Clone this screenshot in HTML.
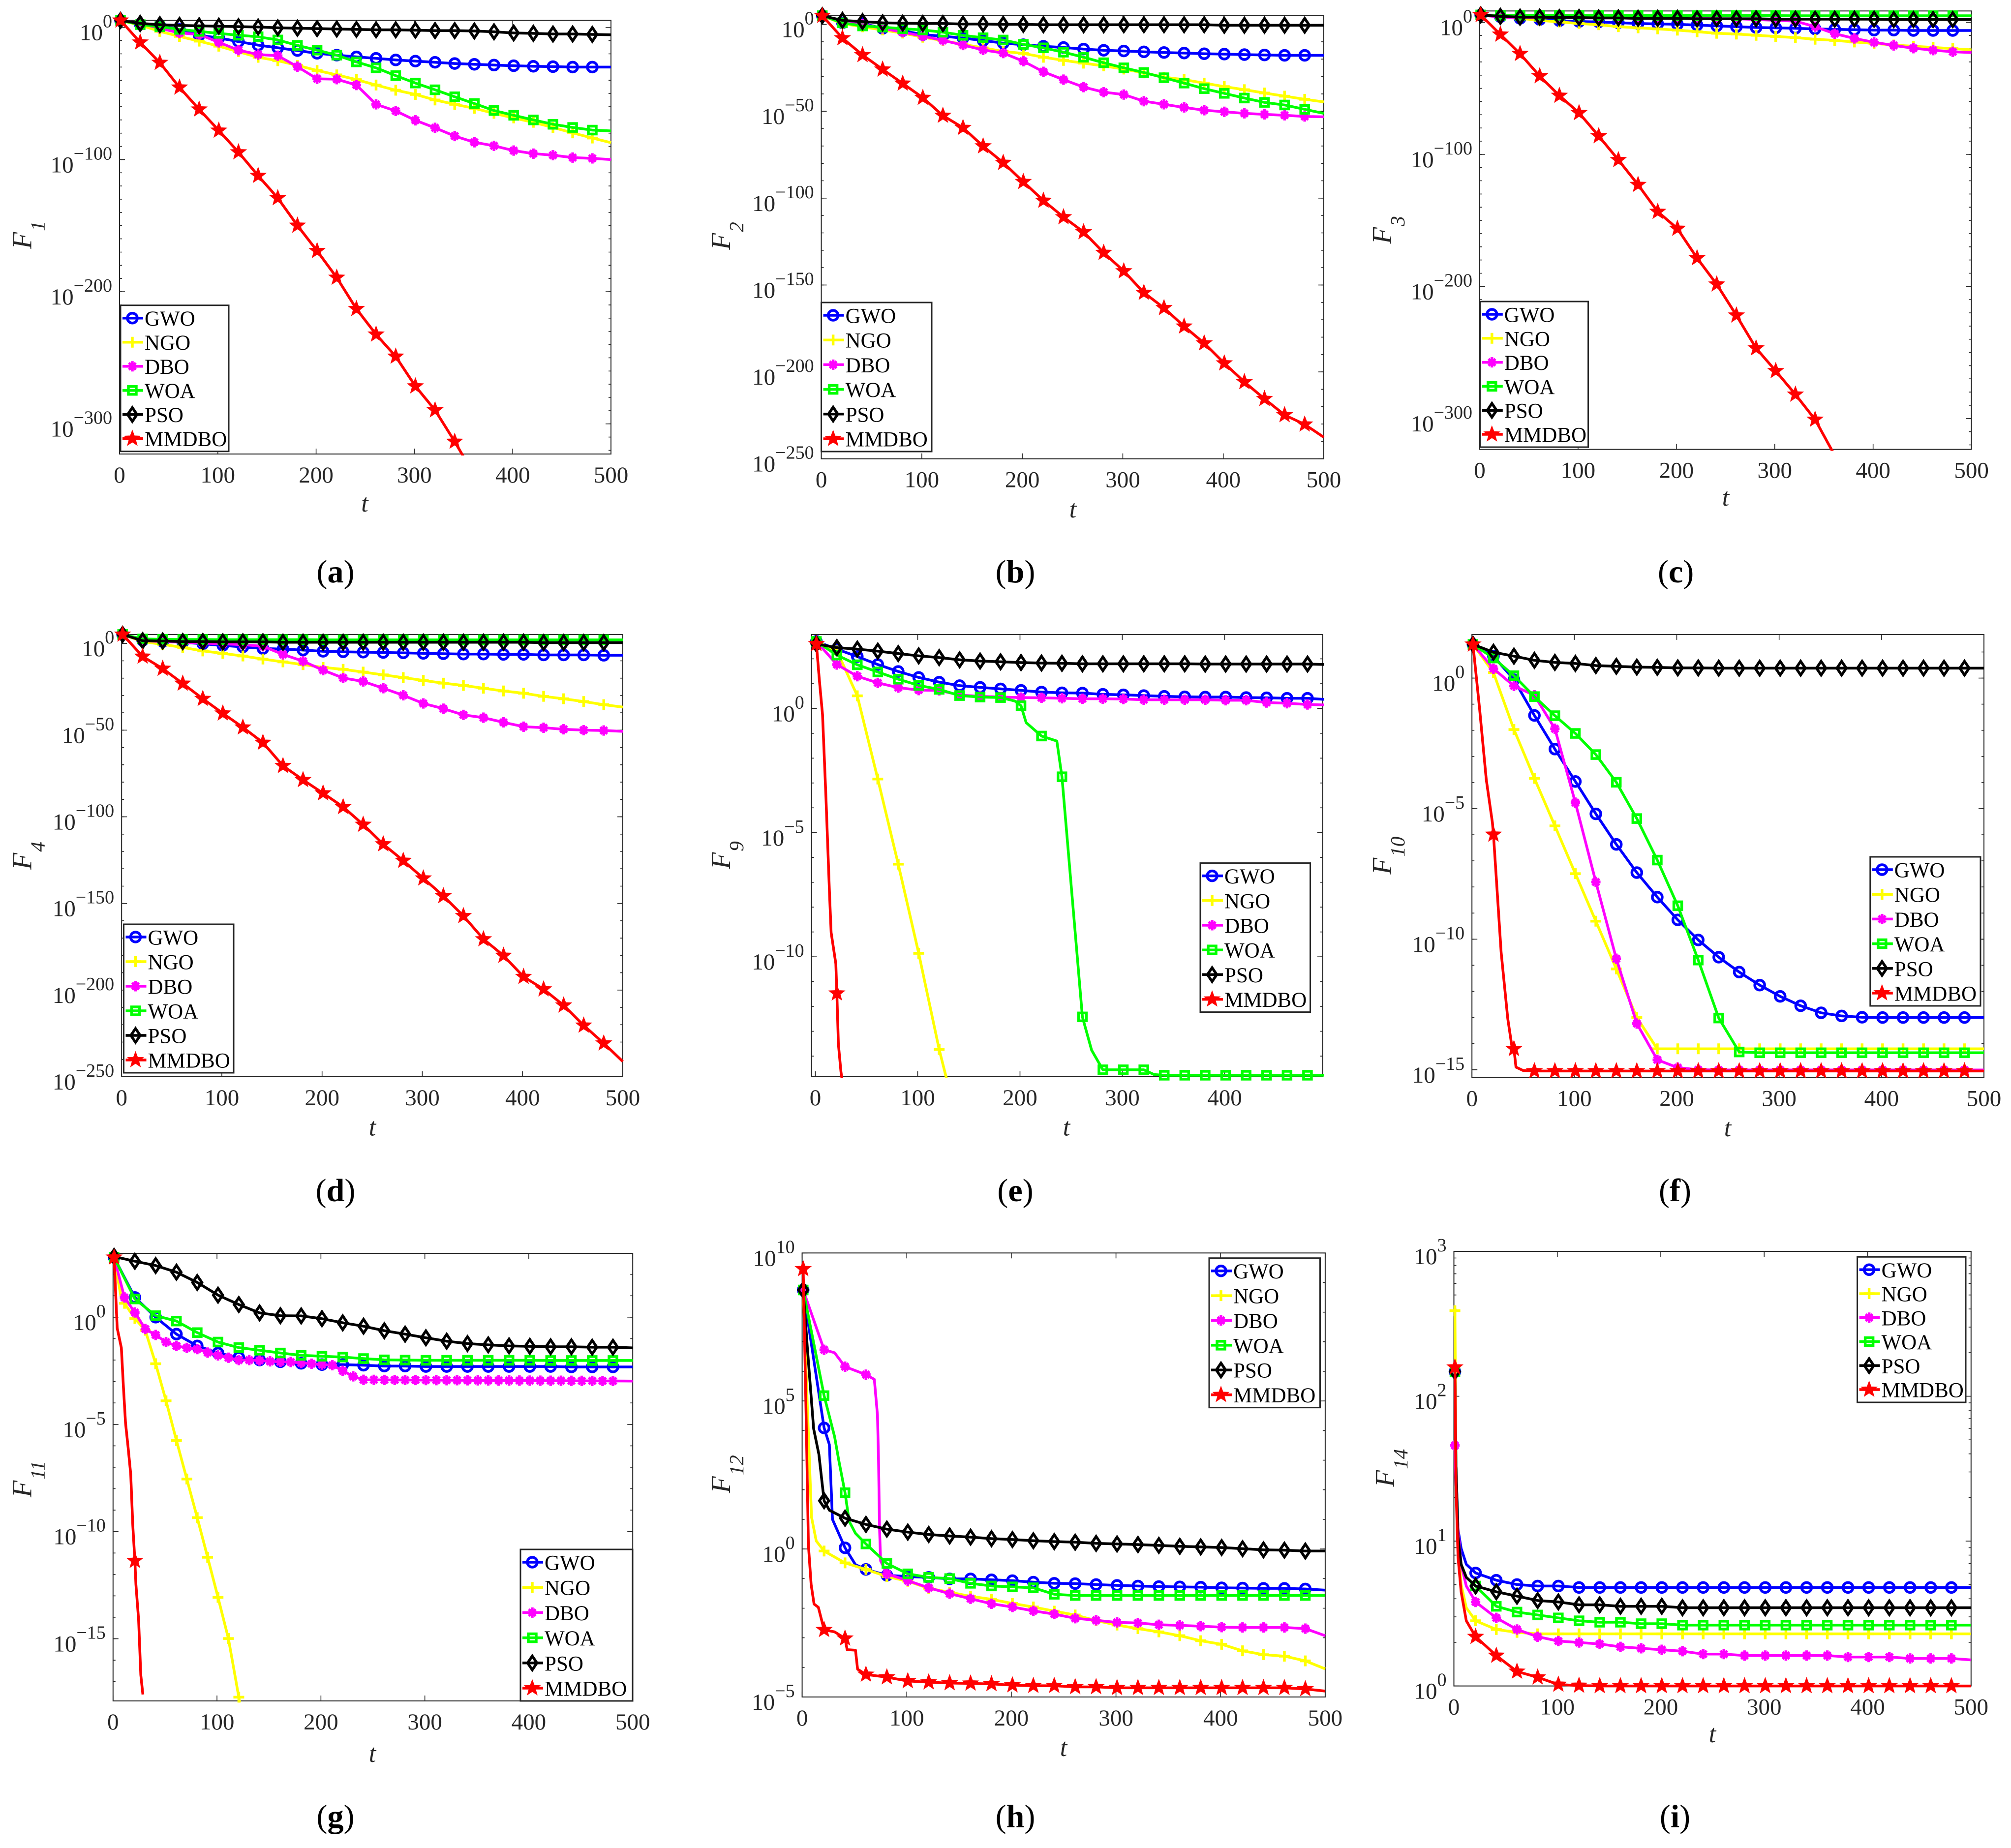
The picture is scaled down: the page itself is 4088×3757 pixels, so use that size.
<!DOCTYPE html>
<html lang="en">
<head>
<meta charset="utf-8">
<title>Convergence curves F1 to F14</title>
<style>
html,body{margin:0;padding:0;background:#fff;}
svg{display:block;font-family:"Liberation Serif",serif;}
</style>
</head>
<body>
<svg id="figure" xmlns="http://www.w3.org/2000/svg" width="4088" height="3757" viewBox="0 0 4088 3757"></svg>
<script>
// Algorithm names (legend order)
const categories = ['GWO','NGO','DBO','WOA','PSO','MMDBO'];
// Iterations shared by most series
const ITER = [1,21,41,61,81,101,121,141,161,181,201,221,241,261,281,301,321,341,361,381,401,421,441,461,481,500];
const T81 = [81,101,121,141,161,181,201,221,241,261,281,301,321,341,361,381,401,421,441,461,481,500];
const T61 = [61,81,101,121,141,161,181,201,221,241,261,281,301,321,341,361,381,401,421,441,461,481,500];
const XT500 = [0,100,200,300,400,500];
const XT400 = [0,100,200,300,400];

// All series values are log10(fitness)
// F1
const F1_yticks = [0,-100,-200,-300];
const F1_GWO = [5.3,2.4,1.2,-1.5,-5.9,-8,-10.7,-13.4,-15.4,-17.5,-19.6,-21,-22.3,-23.4,-24.6,-25.5,-26.4,-27.3,-27.9,-28.5,-29,-29.4,-29.7,-30,-30,-30];
const F1_NGO = [5.3,1.8,-3,-6.8,-10.4,-14.2,-18.4,-22.6,-25.2,-28.7,-32.6,-35.9,-39.5,-43.6,-47.5,-50.7,-54.9,-58.2,-61.2,-65,-68.5,-71.8,-75.7,-79.8,-83.7,-87.2];
const F1_DBO = [5.3,3,-0.6,-4.2,-5.3,-11.3,-17.2,-20.5,-21.4,-29.7,-38.9,-39.2,-43.6,-58.2,-63.2,-70.3,-76,-82.2,-86.9,-89.6,-93.2,-95.5,-96.7,-98.5,-99.1,-100];
const F1_WOA = [5.3,2.1,0.6,-1.5,-3,-4.5,-5.9,-7.1,-9.5,-13.6,-17.2,-21,-26.1,-30.6,-36.5,-42.1,-47.2,-52.5,-57.6,-62.9,-66.5,-70,-73.3,-75.7,-77.7,-78.3];
const F1_PSO = [5.3,3,2.1,1.5,1.2,0.9,0.6,0.3,-0.3,-0.6,-0.9,-1.2,-1.5,-1.8,-1.8,-2.1,-2.4,-2.4,-2.7,-3.3,-4.2,-4.5,-5,-5,-5.3,-5.6];
const F1_MMDBO = [5.3,-11.3,-26.7,-45.4,-62,-78,-94.4,-112.2,-129.1,-149.9,-169.1,-189.3,-213,-232.3,-249,-271.5,-289.6,-313.4,-339];
// F2
const F2_yticks = [0,-50,-100,-150,-200,-250];
const F2_GWO = [5,0.9,0.5,-2.3,-3.6,-5.9,-6.8,-7.9,-9.3,-10.8,-11.7,-12.6,-13.3,-14.2,-14.9,-15.3,-15.8,-16.2,-16.5,-16.9,-17.1,-17.4,-17.6,-17.8,-17.8,-17.8];
const F2_NGO = [5,0.5,-1.4,-3.2,-5,-7.4,-9.3,-11.5,-13.5,-15.6,-16.7,-18.9,-20.7,-22.3,-23.9,-25.7,-27.9,-30.4,-31.8,-33.8,-35.8,-37.6,-39.5,-41.3,-43.1,-44.6];
const F2_DBO = [5,0.9,0,-2.3,-4.5,-6.8,-9.2,-11.9,-14.7,-16.5,-21.2,-27.3,-31.8,-36.1,-39,-40.4,-44.2,-46,-47.8,-49.4,-50.3,-51.2,-51.8,-52.3,-53,-53.2];
const F2_WOA = [5,0.9,-0.9,-1.6,-2.5,-3.2,-4.5,-6.3,-7.7,-9,-11.5,-13.5,-16,-18.9,-22.1,-25,-27.7,-30.7,-33.8,-37,-39.7,-42.4,-44.9,-46.4,-48.9,-51.2];
const F2_PSO = [5,2.3,1.6,0.9,0.7,0.5,0.5,0.2,0.2,0,0,-0.2,-0.2,-0.2,-0.2,-0.2,-0.2,-0.2,-0.2,-0.2,-0.5,-0.5,-0.5,-0.5,-0.5,-0.5];
const F2_MMDBO = [5,-7.9,-17.6,-25.9,-34,-42.2,-52.5,-59.5,-70.1,-79.6,-90.6,-101.4,-110.9,-119.5,-131.4,-142,-154.4,-163.2,-173.8,-183.5,-195,-205.8,-215.5,-224.8,-230.2,-237.6];
// F3
const F3_yticks = [0,-100,-200,-300];
const F3_GWO = [5.6,4.2,3,2.1,1.2,0.6,0.3,-0.3,-0.9,-1.2,-1.5,-2.1,-2.7,-3.3,-3.9,-4.2,-4.5,-5,-5.3,-5.6,-5.9,-5.9,-6.2,-6.2,-6.2,-6.2];
const F3_NGO = [5.6,3.9,3,1.5,0.3,-0.9,-1.8,-3.3,-4.2,-5,-5.9,-7.1,-8.3,-8.9,-9.8,-10.7,-11.6,-12.8,-13.7,-14.9,-16,-17.2,-18.1,-19,-19.9,-20.8];
const F3_DBO = [5.6,3.9,3.6,3.6,3.6,3.3,3.3,3.3,3,3,3,3,2.7,2.7,2.1,1.5,0.9,-3.3,-8.6,-12.2,-15.1,-17.5,-19.6,-21.1,-22.3,-22.9];
const F3_WOA = [5.6,5.3,5.3,5.3,5.3,5.3,5.2,5.2,5.2,5.2,5.1,5.1,5.1,5.1,5.1,5.1,5,5,5,5,5,5,5,5,5,5];
const F3_PSO = [5.6,4.5,3.9,3.9,3.6,3.6,3.3,3.3,3,3,3,2.7,2.7,2.7,2.7,2.4,2.4,2.4,2.4,2.4,2.4,2.1,2.1,2.1,2.1,2.1];
const F3_MMDBO = [5.6,-9.2,-23.8,-40.7,-55.5,-68.6,-86.1,-104.2,-123,-143.4,-156.2,-178.5,-198.4,-221.9,-246.8,-264,-281.8,-300.8,-328];
// F4
const F4_yticks = [0,-50,-100,-150,-200,-250];
const F4_GWO = [5.2,1.8,1.1,0.7,-0.2,-1.1,-2,-2.9,-3.2,-3.8,-4.5,-4.8,-5,-5.2,-5.4,-5.7,-5.9,-6.1,-6.1,-6.3,-6.3,-6.6,-6.6,-6.6,-6.8,-6.8];
const F4_NGO = [5.2,1.1,-0.5,-2.3,-4.3,-5.7,-7.2,-9,-10.6,-12.2,-13.8,-14.9,-16.5,-18.1,-19.7,-21.3,-22.9,-24.2,-25.8,-27.4,-28.7,-30.5,-31.9,-33.5,-35.3,-36.7];
const F4_DBO = [5.2,1.6,1.1,0.7,0.2,-0.2,-0.7,-1.6,-6.3,-10.2,-15.4,-19.9,-21.9,-25.8,-29.9,-34.6,-37.6,-41.2,-42.8,-45.5,-48,-48.6,-49.5,-50,-50.2,-50.7];
const F4_WOA = [5.2,2.6,2.4,2.3,2.3,2.2,2.2,2.2,2.2,2.2,2.1,2.1,2.1,2.1,2.1,2.1,2.1,2.1,2.1,2.1,2.1,2.1,2.1,2.1,2.1,2.1];
const F4_PSO = [5.2,1.6,1.4,1.1,1.1,0.9,0.9,0.9,0.7,0.7,0.7,0.7,0.7,0.7,0.7,0.7,0.7,0.7,0.7,0.7,0.7,0.5,0.5,0.5,0.5,0.5];
const F4_MMDBO = [5.2,-7.5,-14.5,-23.1,-31.9,-40.3,-48.4,-57.2,-70.6,-78.7,-86.4,-94.3,-104.5,-115.8,-125.3,-135.5,-145.7,-157.2,-170.6,-180.1,-192.3,-199.5,-208.8,-220.4,-230.7,-241.2];
// F9
const F9_yticks = [0,-5,-10];
const F9_GWO = [2.7,2.39,2.09,1.77,1.49,1.25,1.06,0.92,0.85,0.79,0.73,0.66,0.63,0.62,0.57,0.55,0.52,0.49,0.47,0.46,0.46,0.44,0.43,0.41,0.41,0.36];
const F9_NGO = [2.7,2.32,0.51,-2.84,-6.27,-9.86,-13.73,-17];
const F9_DBO = [2.7,1.77,1.3,1.03,0.84,0.74,0.73,0.54,0.49,0.46,0.44,0.43,0.41,0.39,0.39,0.38,0.35,0.35,0.35,0.35,0.33,0.33,0.24,0.21,0.16,0.14];
const F9_WOA_t = [1,21,41,61,81,101,121,141,161,181,195,201,206,221,236,241,250,261,270,281,321,331,341,500];
const F9_WOA = [2.7,2.15,1.76,1.47,1.18,0.93,0.77,0.52,0.46,0.44,0.3,0.11,-0.57,-1.11,-1.31,-2.75,-7.12,-12.42,-13.76,-14.55,-14.55,-14.74,-14.77,-14.77];
const F9_PSO = [2.6,2.45,2.39,2.31,2.21,2.12,2.05,1.96,1.91,1.88,1.85,1.83,1.82,1.8,1.8,1.8,1.8,1.8,1.8,1.79,1.79,1.79,1.79,1.79,1.79,1.77];
const F9_MMDBO_t = [1,4,7,10.4,13.8,15.4,20,21,22.5,25,27];
const F9_MMDBO = [2.6,1.1,-0.25,-3.65,-7.44,-9.02,-10.28,-11.47,-13.52,-14.63,-15.2];
// F10
const F10_yticks = [0,-5,-10,-15];
const F10_GWO = [1.29,0.84,-0.06,-1.43,-2.72,-3.96,-5.2,-6.37,-7.45,-8.39,-9.26,-10.03,-10.69,-11.26,-11.76,-12.19,-12.55,-12.82,-12.94,-12.99,-13,-13,-13,-13,-13,-13];
const F10_NGO = [1.29,0.21,-1.97,-3.84,-5.66,-7.49,-9.31,-11.14,-13,-14.2,-14.2,-14.2,-14.2,-14.2,-14.2,-14.2,-14.2,-14.2,-14.2,-14.2,-14.2,-14.2,-14.2,-14.2,-14.2,-14.2];
const F10_DBO = [1.29,0.36,-0.3,-0.66,-1.94,-4.77,-7.81,-10.75,-13.23,-14.62,-14.92,-15,-15.01,-15.01,-15.01,-15.01,-15.01,-15.01,-15.01,-15.01,-15.01,-15.01,-15.01,-15.01,-15.01,-15.01];
const F10_WOA = [1.29,0.77,0.09,-0.71,-1.44,-2.12,-2.93,-3.99,-5.38,-6.97,-8.72,-10.8,-13.02,-14.32,-14.35,-14.35,-14.35,-14.35,-14.35,-14.35,-14.35,-14.35,-14.35,-14.35,-14.35,-14.35];
const F10_PSO = [1.29,0.99,0.84,0.68,0.6,0.56,0.48,0.45,0.42,0.41,0.39,0.39,0.38,0.38,0.38,0.38,0.38,0.38,0.38,0.38,0.38,0.38,0.38,0.38,0.38,0.38];
const F10_MMDBO_t = [1,7.5,14,20,21,23.5,28.5,35,39,41,43,50,...T61];
const F10_MMDBO = [1.29,-1.19,-3.89,-5.54,-5.99,-7.49,-10.5,-13.05,-14.1,-14.2,-14.9,-15.03,-15.05,-15.05,-15.05,-15.05,-15.05,-15.05,-15.05,-15.05,-15.05,-15.05,-15.05,-15.05,-15.05,-15.05,-15.05,-15.05,-15.05,-15.05,-15.05,-15.05,-15.05,-15.05,-15.05];
// F11
const F11_yticks = [0,-5,-10,-15];
const F11_GWO = [2.79,0.92,0,-0.79,-1.34,-1.67,-1.88,-2,-2.08,-2.15,-2.21,-2.21,-2.24,-2.28,-2.28,-2.3,-2.3,-2.3,-2.3,-2.3,-2.3,-2.3,-2.32,-2.32,-2.32,-2.32];
const F11_NGO_t = [1,8,21,31,41,51,61,71,81,91,101,111,118,122];
const F11_NGO = [2.79,0.86,-0.06,-0.61,-2.17,-3.9,-5.75,-7.55,-9.35,-11.2,-13.07,-14.99,-16.9,-18];
const F11_DBO_t = [1,11,21,31,41,51,61,71,81,91,101,111,121,131,141,151,161,171,181,191,201,211,221,231,241,500];
const F11_DBO = [2.79,0.92,0.22,-0.55,-0.83,-1.16,-1.34,-1.43,-1.49,-1.65,-1.78,-1.89,-2,-2,-2.02,-2.06,-2.08,-2.09,-2.13,-2.17,-2.21,-2.24,-2.5,-2.76,-2.92,-2.98];
const F11_WOA = [2.79,0.85,0.07,-0.18,-0.72,-1.16,-1.42,-1.54,-1.67,-1.78,-1.82,-1.86,-1.93,-1.99,-2,-2.01,-2.01,-2.01,-2.01,-2.01,-2.01,-2.02,-2.02,-2.02,-2.02,-2.02];
const F11_PSO = [2.83,2.61,2.41,2.1,1.62,1.03,0.59,0.2,0.07,0.06,-0.07,-0.26,-0.42,-0.63,-0.79,-0.96,-1.12,-1.23,-1.29,-1.34,-1.36,-1.38,-1.38,-1.4,-1.4,-1.43];
const F11_MMDBO_t = [1,4,8,10,12,14.4,17,19,21,22,24.6,26.7,28.7];
const F11_MMDBO = [2.79,-0.51,-1.43,-3.27,-4.93,-6.03,-7.32,-9.71,-11.36,-12.46,-14.12,-16.69,-17.6];
// F12
const F12_yticks = [10,5,0,-5];
const F12_GWO_t = [1,21,26,29,41,51,61,...T81];
const F12_GWO = [8.75,4.09,3.53,1,0.04,-0.53,-0.69,-0.89,-0.93,-0.96,-1.01,-1.01,-1.04,-1.07,-1.12,-1.16,-1.17,-1.2,-1.23,-1.25,-1.27,-1.28,-1.29,-1.31,-1.32,-1.33,-1.33,-1.35,-1.39];
const F12_NGO_t = [1,5,9,13.5,21,41,61,...T81];
const F12_NGO = [8.75,4.8,1.07,0.27,-0.07,-0.47,-0.69,-0.93,-1.09,-1.33,-1.46,-1.6,-1.7,-1.84,-1.96,-2.1,-2.23,-2.42,-2.57,-2.69,-2.8,-2.93,-3.1,-3.22,-3.44,-3.57,-3.62,-3.78,-4.05];
const F12_DBO_t = [1,21,31,41,61,69,72,73,74,75,...T81];
const F12_DBO = [8.75,6.73,6.63,6.16,5.89,5.73,4.53,3.06,0.67,-0.4,-0.84,-1.07,-1.31,-1.51,-1.68,-1.85,-1.96,-2.09,-2.2,-2.34,-2.41,-2.48,-2.5,-2.56,-2.58,-2.61,-2.64,-2.65,-2.65,-2.65,-2.69,-2.93];
const F12_WOA_t = [1,21,31,35,41,45,51,61,...T81];
const F12_WOA = [8.75,5.18,3.8,3,1.9,0.93,0.53,0.17,-0.49,-0.84,-0.96,-1,-1.16,-1.25,-1.28,-1.31,-1.53,-1.57,-1.57,-1.57,-1.57,-1.57,-1.57,-1.57,-1.57,-1.57,-1.57,-1.57,-1.57,-1.57];
const F12_PSO_t = [1,5,11,16,21,26,41,61,...T81];
const F12_PSO = [8.75,6.79,4.06,3.2,1.63,1.31,1.04,0.83,0.67,0.57,0.49,0.44,0.4,0.35,0.32,0.28,0.25,0.23,0.19,0.17,0.15,0.12,0.09,0.07,0.05,0.01,-0.03,-0.04,-0.07,-0.07];
const F12_MMDBO_t = [1,4,6,8.6,11.4,15.5,21,31,41,43,51,53,61,...T81];
const F12_MMDBO = [9.46,4.13,0.13,-1.2,-1.86,-1.97,-2.73,-2.8,-3.02,-3.4,-3.42,-4.06,-4.24,-4.33,-4.46,-4.5,-4.53,-4.54,-4.56,-4.6,-4.62,-4.62,-4.66,-4.66,-4.69,-4.69,-4.69,-4.69,-4.69,-4.69,-4.69,-4.69,-4.69,-4.73,-4.8];
// F14
const F14_yticks = [3,2,1,0];
const F14_t = [1,2,4,7,12,21,41,61,...T81];
const F14_GWO = [2.17,1.52,1.08,0.95,0.84,0.78,0.73,0.7,0.69,0.69,0.68,0.68,0.68,0.68,0.68,0.68,0.68,0.68,0.68,0.68,0.68,0.68,0.68,0.68,0.68,0.68,0.68,0.68,0.68,0.68];
const F14_NGO = [2.59,1.52,0.97,0.7,0.54,0.45,0.39,0.37,0.36,0.36,0.36,0.36,0.36,0.36,0.36,0.36,0.36,0.36,0.36,0.36,0.36,0.36,0.36,0.36,0.36,0.36,0.36,0.36,0.36,0.36];
const F14_DBO = [1.66,1.38,1.08,0.84,0.69,0.58,0.47,0.39,0.34,0.31,0.3,0.29,0.27,0.26,0.25,0.24,0.22,0.22,0.21,0.21,0.21,0.21,0.21,0.2,0.2,0.2,0.19,0.19,0.19,0.18];
const F14_WOA = [2.17,1.52,1.03,0.84,0.75,0.69,0.55,0.51,0.49,0.47,0.45,0.44,0.44,0.43,0.43,0.42,0.42,0.42,0.42,0.42,0.42,0.42,0.42,0.42,0.42,0.42,0.42,0.42,0.42,0.42];
const F14_PSO = [2.17,1.52,1.03,0.84,0.75,0.69,0.65,0.62,0.59,0.58,0.56,0.56,0.55,0.55,0.55,0.54,0.54,0.54,0.54,0.54,0.54,0.54,0.54,0.54,0.54,0.54,0.54,0.54,0.54,0.54];
const F14_MMDBO = [2.2,1.38,0.89,0.65,0.45,0.34,0.21,0.1,0.06,0.01,0.003,0,0,0,0,0,0,0,0,0,0,0,0,0,0,0,0,0,0,0];

const colors = {GWO:'#0000ff',NGO:'#ffff00',DBO:'#ff00ff',WOA:'#00ff00',PSO:'#000000',MMDBO:'#ff0000'};
const kinds = {GWO:'circle',NGO:'plus',DBO:'asterisk',WOA:'square',PSO:'diamond',MMDBO:'star'};

function S(t,y,step){return {t:t,y:y,step:step||20};}

const panels = [
 {fn:'F1',sub:'1',cap:'a',box:[243,1242,41.5,923],xd:[0,500],yd:[5.3,-322.8],xt:XT500,yt:F1_yticks,minor:10,
  series:[S(ITER,F1_GWO),S(ITER,F1_NGO),S(ITER,F1_DBO),S(ITER,F1_WOA),S(ITER,F1_PSO),S(ITER,F1_MMDBO)],
  leg:[245,465,620.7,917.7],yl:[63.5,506],xl:[741.5,1040],capPos:[682,1184]},
 {fn:'F2',sub:'2',cap:'b',box:[1669.6,2691,31.9,932.7],xd:[0,500],yd:[5,-250],xt:XT500,yt:F2_yticks,minor:10,
  series:[S(ITER,F2_GWO),S(ITER,F2_NGO),S(ITER,F2_DBO),S(ITER,F2_WOA),S(ITER,F2_PSO),S(ITER,F2_MMDBO)],
  leg:[1669.6,1894,615,918],yl:[1484,508],xl:[2181,1052],capPos:[2064,1184]},
 {fn:'F3',sub:'3',cap:'c',box:[3008,4007.6,22.3,913.6],xd:[0,500],yd:[8.6,-323.4],xt:XT500,yt:F3_yticks,minor:10,
  series:[S(ITER,F3_GWO),S(ITER,F3_NGO),S(ITER,F3_DBO),S(ITER,F3_WOA),S(ITER,F3_PSO),S(ITER,F3_MMDBO)],
  leg:[3008.8,3228.6,613,909],yl:[2828,496],xl:[3508,1028],capPos:[3406.6,1184]},
 {fn:'F4',sub:'4',cap:'d',box:[247.2,1266,1289.9,2189],xd:[0,500],yd:[5.2,-250],xt:XT500,yt:F4_yticks,minor:10,
  series:[S(ITER,F4_GWO),S(ITER,F4_NGO),S(ITER,F4_DBO),S(ITER,F4_WOA),S(ITER,F4_PSO),S(ITER,F4_MMDBO)],
  leg:[251.5,475,1879,2181],yl:[63.5,1768],xl:[757,2308.7],capPos:[682,2442]},
 {fn:'F9',sub:'9',cap:'e',box:[1649.7,2688.7,1289.9,2189],xd:[-3.75,495.8],yd:[2.98,-14.83],xt:XT400,yt:F9_yticks,minor:1,
  series:[S(ITER,F9_GWO),S(ITER,F9_NGO),S(ITER,F9_DBO),S(F9_WOA_t,F9_WOA),S(ITER,F9_PSO),S(F9_MMDBO_t,F9_MMDBO)],
  leg:[2440,2663.6,1754.6,2057.6],yl:[1484,1767],xl:[2168,2308.7],capPos:[2064,2442]},
 {fn:'F10',sub:'10',cap:'f',box:[2992.2,4033,1289.9,2190.7],xd:[0,500],yd:[1.67,-15.3],xt:XT500,yt:F10_yticks,minor:1,
  series:[S(ITER,F10_GWO),S(ITER,F10_NGO),S(ITER,F10_DBO),S(ITER,F10_WOA),S(ITER,F10_PSO),S(F10_MMDBO_t,F10_MMDBO)],
  leg:[3801.8,4026,1742,2045],yl:[2828,1778],xl:[3512,2310],capPos:[3405,2442]},
 {fn:'F11',sub:'11',cap:'g',box:[229.8,1286.2,2548,3458],xd:[0,500],yd:[2.98,-17.9],xt:XT500,yt:F11_yticks,minor:1,
  series:[S(ITER,F11_GWO),S(F11_NGO_t,F11_NGO,10),S(F11_DBO_t,F11_DBO,10),S(ITER,F11_WOA),S(ITER,F11_PSO),S(F11_MMDBO_t,F11_MMDBO)],
  leg:[1058,1286,3150,3458],yl:[63.5,3044],xl:[757,3582],capPos:[682,3714.6]},
 {fn:'F12',sub:'12',cap:'h',box:[1630.6,2693.9,2547.3,3450],xd:[0,500],yd:[10,-5],xt:XT500,yt:F12_yticks,minor:1,
  series:[S(F12_GWO_t,F12_GWO),S(F12_NGO_t,F12_NGO),S(F12_DBO_t,F12_DBO),S(F12_WOA_t,F12_WOA),S(F12_PSO_t,F12_PSO),S(F12_MMDBO_t,F12_MMDBO)],
  leg:[2458,2683.5,2557.7,2861.6],yl:[1484,3035.5],xl:[2162,3570],capPos:[2064,3714.6]},
 {fn:'F14',sub:'14',cap:'i',box:[2955.5,4006.8,2544,3427.6],xd:[0,500],yd:[3,0],xt:XT500,yt:F14_yticks,minor:'log',
  series:[S(F14_t,F14_GWO),S(F14_t,F14_NGO),S(F14_t,F14_DBO),S(F14_t,F14_WOA),S(F14_t,F14_PSO),S(F14_t,F14_MMDBO)],
  leg:[3775.6,3996,2555.3,2851],yl:[2834,3023],xl:[3481,3542],capPos:[3405,3714.6]}
];

const NS = 'http://www.w3.org/2000/svg';
const root = document.getElementById('figure');
const AXIS = '#262626';

function mk(tag, attrs, parent, txt){
  const el = document.createElementNS(NS, tag);
  for (const k in attrs) el.setAttribute(k, attrs[k]);
  if (txt !== undefined) el.textContent = txt;
  if (parent) parent.appendChild(el);
  return el;
}

function starPts(R){
  const r = R*0.42, p = [];
  for (let i=0;i<10;i++){
    const a = -Math.PI/2 + i*Math.PI/5, q = i%2 ? r : R;
    p.push((q*Math.cos(a)).toFixed(2)+','+(q*Math.sin(a)).toFixed(2));
  }
  return p.join(' ');
}

function drawMarker(kind, color, x, y, parent){
  const g = mk('g', {transform:'translate('+x.toFixed(2)+','+y.toFixed(2)+')'}, parent);
  const base = {stroke:color, 'stroke-width':5.5, fill:'none'};
  if (kind === 'circle') mk('circle', Object.assign({r:10},base), g);
  else if (kind === 'plus') mk('path', Object.assign({d:'M0,-11V11M-11,0H11'},base), g);
  else if (kind === 'asterisk') mk('path', Object.assign({d:'M0,-10.5V10.5M-9.5,0H9.5M-7,-7L7,7M-7,7L7,-7'},base), g);
  else if (kind === 'square') mk('rect', Object.assign({x:-8,y:-8,width:16,height:16},base), g);
  else if (kind === 'diamond') mk('polygon', Object.assign({points:'0,-14 9.5,0 0,14 -9.5,0'},base), g);
  else mk('polygon', {points:starPts(17), fill:color, stroke:color, 'stroke-width':1}, g);
  return g;
}

function interp(ts, ys, t){
  const n = Math.min(ts.length, ys.length);
  if (t < ts[0] || t > ts[n-1]) return null;
  for (let i=1;i<n;i++){
    if (t <= ts[i]) {
      const f = (t-ts[i-1])/(ts[i]-ts[i-1]);
      return ys[i-1] + f*(ys[i]-ys[i-1]);
    }
  }
  return ys[0];
}

panels.forEach(function(P, pi){
  const L=P.box[0], R=P.box[1], T=P.box[2], B=P.box[3];
  const xS = function(t){return L + (t-P.xd[0])/(P.xd[1]-P.xd[0])*(R-L);};
  const yS = function(v){return T + (P.yd[0]-v)/(P.yd[0]-P.yd[1])*(B-T);};

  const g = mk('g', {}, root);
  
  

  const clipId = 'clip' + pi;
  const cp = mk('clipPath', {id:clipId}, g);
  mk('rect', {x:L-3,y:T-3,width:R-L+6,height:B-T+6}, cp);

  // Axes box
  const frame = mk('rect', {x:L,y:T,width:R-L,height:B-T,fill:'none',stroke:AXIS,'stroke-width':2}, g);
  
  

  // X ticks
  P.xt.forEach(function(v){
    const x = xS(v);
    mk('path', {d:'M'+x+','+B+'V'+(B-11)+'M'+x+','+T+'V'+(T+11),stroke:AXIS,'stroke-width':1.6,fill:'none'}, g);
    const lab = mk('text', {x:x,y:B+58,'font-size':47,fill:AXIS,'text-anchor':'middle'}, g, String(v));
    
    
  });

  // Y ticks
  P.yt.forEach(function(v){
    const y = yS(v);
    mk('path', {d:'M'+L+','+y+'H'+(L+11)+'M'+R+','+y+'H'+(R-11),stroke:AXIS,'stroke-width':1.6,fill:'none'}, g);
    const lab = mk('text', {x:L-15,y:y+26,'font-size':47,fill:AXIS,'text-anchor':'end'}, g);
    
    
    mk('tspan', {}, lab, '10');
    mk('tspan', {dy:-26,'font-size':38}, lab, (v<0?'\u2212':'') + Math.abs(v));
  });

  // Minor ticks
  let minorVals = [];
  if (P.minor === 'log') {
    for (let d=0;d<3;d++) for (let m=2;m<10;m++) minorVals.push(d+Math.log10(m));
  } else {
    for (let v=Math.ceil(P.yd[1]/P.minor)*P.minor; v<=P.yd[0]; v+=P.minor) minorVals.push(v);
  }
  let dm = '';
  minorVals.forEach(function(v){
    const y = yS(v);
    dm += 'M'+L+','+y.toFixed(1)+'H'+(L+5)+'M'+R+','+y.toFixed(1)+'H'+(R-5);
  });
  const minorPath = mk('path', {d:dm,stroke:AXIS,'stroke-width':1.6,fill:'none'}, g);
  
  

  // Series
  P.series.forEach(function(s, si){
    const name = categories[si], color = colors[name], kind = kinds[name];
    const sg = mk('g', {}, g);
    
    
    const n = Math.min(s.t.length, s.y.length);
    const pts = [];
    for (let i=0;i<n;i++) pts.push(xS(s.t[i]).toFixed(2)+','+yS(s.y[i]).toFixed(2));
    const line = mk('polyline', {points:pts.join(' '),fill:'none',stroke:color,'stroke-width':5.5,'stroke-linejoin':'round','clip-path':'url(#'+clipId+')'}, sg);
    
    
    for (let t=1; t<=481; t+=s.step){
      const v = interp(s.t, s.y, t);
      if (v === null || v < P.yd[1] || t > P.xd[1]) continue;
      const m = drawMarker(kind, color, xS(t), yS(v), sg);
      
      
    }
  });

  // X label
  const xl = mk('text', {x:P.xl[0],y:P.xl[1],'font-size':52,'font-style':'italic',fill:AXIS,'text-anchor':'middle'}, g, 't');
  
  

  // Y label
  const yl = mk('text', {transform:'translate('+P.yl[0]+','+P.yl[1]+') rotate(-90)','font-size':56,'font-style':'italic',fill:AXIS}, g);
  
  
  mk('tspan', {}, yl, 'F');
  mk('tspan', {dx:2,dy:27,'font-size':41}, yl, P.sub);

  // Legend
  const lg = mk('g', {}, g);
  
  
  const lx0=P.leg[0], lx1=P.leg[1], ly0=P.leg[2], ly1=P.leg[3];
  mk('rect', {x:lx0,y:ly0,width:lx1-lx0,height:ly1-ly0,fill:'#ffffff',stroke:AXIS,'stroke-width':3}, lg);
  const rowGap = (ly1-ly0-52)/5;
  categories.forEach(function(name, i){
    const e = mk('g', {}, lg);
    
    
    const ry = ly0 + 26 + i*rowGap;
    mk('line', {x1:lx0+4,x2:lx0+46,y1:ry,y2:ry,stroke:colors[name],'stroke-width':5.5}, e);
    drawMarker(kinds[name], colors[name], lx0+24, ry, e);
    mk('text', {x:lx0+49,y:ry+15.5,'font-size':43,fill:'#000000'}, e, name);
  });

  // Caption
  const cap = mk('text', {x:P.capPos[0],y:P.capPos[1],'font-size':66,fill:'#000000','text-anchor':'middle'}, g);
  
  
  mk('tspan', {}, cap, '(');
  mk('tspan', {'font-weight':'bold'}, cap, P.cap);
  mk('tspan', {}, cap, ')');
});
</script>
</body>
</html>
